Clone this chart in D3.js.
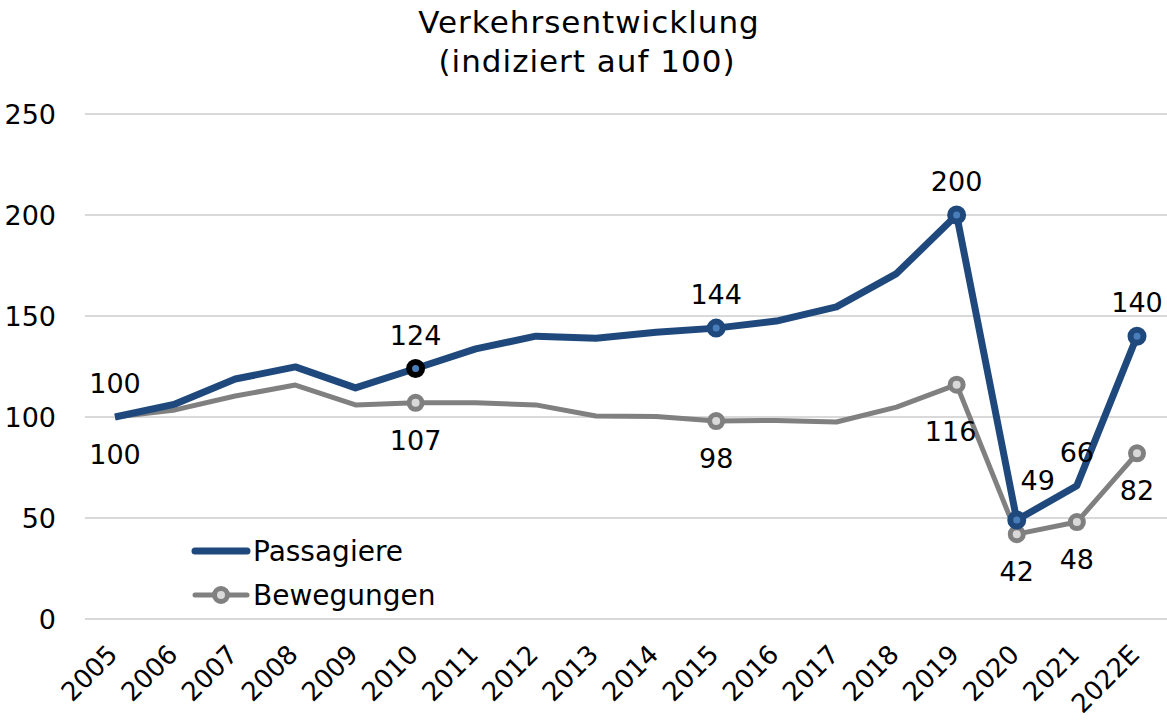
<!DOCTYPE html>
<html>
<head>
<meta charset="utf-8">
<script src="https://cdn.jsdelivr.net/npm/d3@7"></script>
<style>
  body { margin: 0; background: #fff; }
  text { font-family: "DejaVu Sans", Verdana, sans-serif; fill: #000; }
</style>
</head>
<body>
<div id="chart"></div>
<script>
// data
var years = ["2005", "2006", "2007", "2008", "2009", "2010", "2011", "2012", "2013",
  "2014", "2015", "2016", "2017", "2018", "2019", "2020", "2021", "2022E"];
var passagiere = [100, 106.4, 118.8, 124.8, 114.4, 124, 133.7, 140, 139, 142, 144, 147.5, 154.5, 171, 200, 49, 66, 140];
var bewegungen = [100, 103.5, 110.4, 115.8, 106, 107, 107, 106, 100.5, 100.3, 98, 98.3, 97.5, 104.9, 116, 42, 48, 82];
var yTicks = [0, 50, 100, 150, 200, 250];

// which points get a marker / value label
var passMarkers = ["2010", "2015", "2019", "2020", "2022E"];
var passLabels = ["2005", "2010", "2015", "2019", "2020", "2021", "2022E"];
var bewMarkers = ["2010", "2015", "2019", "2020", "2021", "2022E"];
var bewLabels = ["2005", "2010", "2015", "2019", "2020", "2021", "2022E"];

var width = 1167, height = 720;
var blue = "#1f497d", blueInner = "#4a7ebb";
var grey = "#808080", greyInner = "#d9d9d9";

var svg = d3.select("#chart").append("svg")
  .attr("width", width)
  .attr("height", height);

var x = d3.scalePoint()
  .domain(years)
  .range([115, 1137]);

var y = d3.scaleLinear()
  .domain([0, 250])
  .range([619, 114]);

// title
svg.append("text")
  .attr("x", 589).attr("y", 33)
  .attr("text-anchor", "middle")
  .style("font-size", "31px")
  .style("letter-spacing", "1px")
  .text("Verkehrsentwicklung");
svg.append("text")
  .attr("x", 587).attr("y", 72)
  .attr("text-anchor", "middle")
  .style("font-size", "31px")
  .style("letter-spacing", "1px")
  .text("(indiziert auf 100)");

// gridlines + y labels
svg.selectAll(".grid")
  .data(yTicks)
  .enter().append("line")
  .attr("x1", 85).attr("x2", 1167)
  .attr("y1", d => y(d)).attr("y2", d => y(d))
  .attr("stroke", "#d9d9d9")
  .attr("stroke-width", 2);

svg.selectAll(".ylab")
  .data(yTicks)
  .enter().append("text")
  .attr("x", 56)
  .attr("y", d => y(d) + 10)
  .attr("text-anchor", "end")
  .style("font-size", "27px")
  .text(d => d);

// x labels rotated
svg.selectAll(".xlab")
  .data(years)
  .enter().append("text")
  .attr("text-anchor", "end")
  .style("font-size", "26px")
  .attr("transform", d => "translate(" + (x(d) + 4) + ",656) rotate(-45)")
  .text(d => d);

var line = d3.line()
  .x((d, i) => x(years[i]))
  .y(d => y(d));

svg.append("path")
  .datum(bewegungen)
  .attr("fill", "none")
  .attr("stroke", grey)
  .attr("stroke-width", 5)
  .attr("stroke-linejoin", "round")
  .attr("d", line);

svg.append("path")
  .datum(passagiere)
  .attr("fill", "none")
  .attr("stroke", blue)
  .attr("stroke-width", 7)
  .attr("stroke-linejoin", "round")
  .attr("d", line);

// markers
var bewPts = years.map((yr, i) => ({ year: yr, v: bewegungen[i] }));
var passPts = years.map((yr, i) => ({ year: yr, v: passagiere[i] }));

svg.selectAll(".bdot")
  .data(bewPts.filter(d => bewMarkers.includes(d.year)))
  .enter().append("circle")
  .attr("cx", d => x(d.year))
  .attr("cy", d => y(d.v))
  .attr("r", 6.5)
  .attr("fill", greyInner)
  .attr("stroke", grey)
  .attr("stroke-width", 5);

svg.selectAll(".pdot")
  .data(passPts.filter(d => passMarkers.includes(d.year)))
  .enter().append("circle")
  .attr("cx", d => x(d.year))
  .attr("cy", d => y(d.v))
  .attr("r", 6.5)
  .attr("fill", blueInner)
  .attr("stroke", d => d.year === "2010" ? "#000" : blue)
  .attr("stroke-width", 6);

// value labels (offsets follow the reference placement)
var passOffset = { "2020": [21, -30] };
var bewOffset = { "2019": [-6, 56] };

svg.selectAll(".plab")
  .data(passPts.filter(d => passLabels.includes(d.year)))
  .enter().append("text")
  .attr("text-anchor", "middle")
  .style("font-size", "27px")
  .attr("x", d => x(d.year) + (passOffset[d.year] ? passOffset[d.year][0] : 0))
  .attr("y", d => y(d.v) + (passOffset[d.year] ? passOffset[d.year][1] : -24))
  .text(d => Math.round(d.v));

svg.selectAll(".blab")
  .data(bewPts.filter(d => bewLabels.includes(d.year)))
  .enter().append("text")
  .attr("text-anchor", "middle")
  .style("font-size", "27px")
  .attr("x", d => x(d.year) + (bewOffset[d.year] ? bewOffset[d.year][0] : 0))
  .attr("y", d => y(d.v) + (bewOffset[d.year] ? bewOffset[d.year][1] : 47))
  .text(d => Math.round(d.v));

// legend
var legend = svg.append("g");
legend.append("line")
  .attr("x1", 195).attr("x2", 247)
  .attr("y1", 551).attr("y2", 551)
  .attr("stroke", blue).attr("stroke-width", 7)
  .attr("stroke-linecap", "round");
legend.append("text")
  .attr("x", 253).attr("y", 561)
  .style("font-size", "28px")
  .text("Passagiere");
legend.append("line")
  .attr("x1", 195).attr("x2", 247)
  .attr("y1", 595).attr("y2", 595)
  .attr("stroke", grey).attr("stroke-width", 5)
  .attr("stroke-linecap", "round");
legend.append("circle")
  .attr("cx", 221).attr("cy", 595).attr("r", 6.5)
  .attr("fill", greyInner).attr("stroke", grey).attr("stroke-width", 5);
legend.append("text")
  .attr("x", 253).attr("y", 605)
  .style("font-size", "28px")
  .text("Bewegungen");
</script>
</body>
</html>
